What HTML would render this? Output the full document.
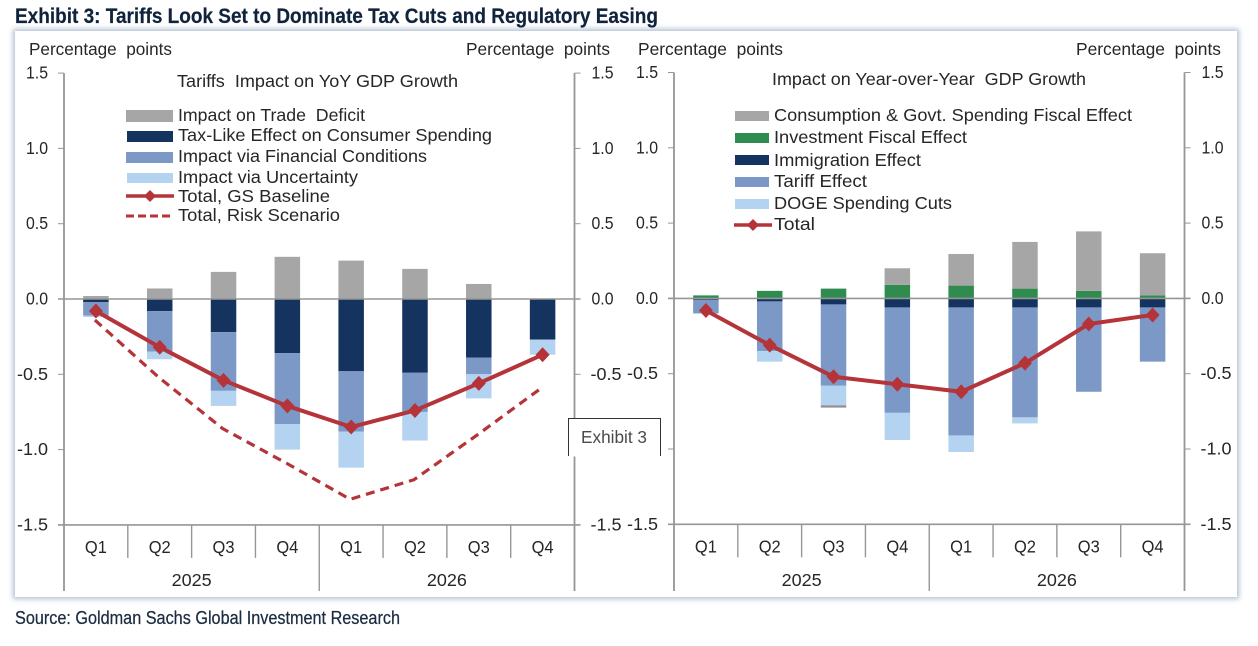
<!DOCTYPE html>
<html lang="en">
<head>
<meta charset="utf-8">
<title>Exhibit 3: Tariffs Look Set to Dominate Tax Cuts and Regulatory Easing</title>
<style>
html,body{margin:0;padding:0;background:#fff;}
#stage{position:relative;width:1258px;height:646px;overflow:hidden;background:#fff;}
#panel{position:absolute;left:15px;top:31px;width:1222px;height:566px;background:#fff;box-shadow:0 0 5px 2px #b0bfd2;}
#art{position:absolute;left:0;top:0;filter:blur(0.3px);}
text{font-family:"Liberation Sans",Arial,sans-serif;font-size:17.5px;fill:#262626;white-space:pre;}
.head{font-weight:bold;font-size:21px;fill:#10233c;stroke:#10233c;stroke-width:0.2px;}
.src{font-size:18px;fill:#1c2c40;stroke:#1c2c40;stroke-width:0.25px;}
</style>
</head>
<body>
<div id="stage">
<div id="panel"></div>
<svg id="art" width="1258" height="646" viewBox="0 0 1258 646" xmlns="http://www.w3.org/2000/svg">
  <g id="left-chart"></g>
  <g id="right-chart"></g>

  <text class="head" x="15" y="23" textLength="643" lengthAdjust="spacingAndGlyphs">Exhibit 3: Tariffs Look Set to Dominate Tax Cuts and Regulatory Easing</text>
  <text class="src" x="15" y="624" textLength="385" lengthAdjust="spacingAndGlyphs">Source: Goldman Sachs Global Investment Research</text>

  <text x="29" y="55" textLength="143" lengthAdjust="spacingAndGlyphs">Percentage  points</text>
  <text x="466" y="55" textLength="144" lengthAdjust="spacingAndGlyphs">Percentage  points</text>
  <text x="638" y="55" textLength="145" lengthAdjust="spacingAndGlyphs">Percentage  points</text>
  <text x="1076" y="55" textLength="145" lengthAdjust="spacingAndGlyphs">Percentage  points</text>

  <text x="177" y="87" textLength="281" lengthAdjust="spacingAndGlyphs">Tariffs  Impact on YoY GDP Growth</text>
  <text x="772" y="85" textLength="314" lengthAdjust="spacingAndGlyphs">Impact on Year-over-Year  GDP Growth</text>

  <g>
    <rect x="126" y="110" width="47" height="12" fill="#a6a6a6"/>
    <text x="178" y="121" textLength="187" lengthAdjust="spacingAndGlyphs">Impact on Trade  Deficit</text>
    <rect x="127" y="131" width="46" height="11" fill="#14335f"/>
    <text x="178" y="141" textLength="314" lengthAdjust="spacingAndGlyphs">Tax-Like Effect on Consumer Spending</text>
    <rect x="126" y="152" width="47" height="11" fill="#7c98c6"/>
    <text x="178" y="162" textLength="249" lengthAdjust="spacingAndGlyphs">Impact via Financial Conditions</text>
    <rect x="127" y="173" width="46" height="10" fill="#b4d3f1"/>
    <text x="178" y="183" textLength="180" lengthAdjust="spacingAndGlyphs">Impact via Uncertainty</text>
    <line x1="126" y1="196" x2="174" y2="196" stroke="#b5343a" stroke-width="3.5"/>
    <polygon points="150,190 156,196 150,202 144,196" fill="#b5343a"/>
    <text x="178" y="202" textLength="152" lengthAdjust="spacingAndGlyphs">Total, GS Baseline</text>
    <line x1="126" y1="216" x2="174" y2="216" stroke="#b5343a" stroke-width="3" stroke-dasharray="8 4"/>
    <text x="178" y="221" textLength="162" lengthAdjust="spacingAndGlyphs">Total, Risk Scenario</text>
  </g>

  <g>
    <rect x="735" y="111" width="34" height="10" fill="#a6a6a6"/>
    <text x="774" y="121" textLength="358" lengthAdjust="spacingAndGlyphs">Consumption &amp; Govt. Spending Fiscal Effect</text>
    <rect x="735" y="133" width="34" height="10" fill="#2f8b4e"/>
    <text x="774" y="143" textLength="193" lengthAdjust="spacingAndGlyphs">Investment Fiscal Effect</text>
    <rect x="735" y="155" width="34" height="10" fill="#14335f"/>
    <text x="774" y="166" textLength="147" lengthAdjust="spacingAndGlyphs">Immigration Effect</text>
    <rect x="735" y="177" width="34" height="10" fill="#7c98c6"/>
    <text x="774" y="187" textLength="93" lengthAdjust="spacingAndGlyphs">Tariff Effect</text>
    <rect x="735" y="199" width="34" height="10" fill="#b4d3f1"/>
    <text x="774" y="209" textLength="178" lengthAdjust="spacingAndGlyphs">DOGE Spending Cuts</text>
    <line x1="734" y1="225" x2="772" y2="225" stroke="#b5343a" stroke-width="3.5"/>
    <polygon points="753,219 759,225 753,231 747,225" fill="#b5343a"/>
    <text x="774" y="230" textLength="41" lengthAdjust="spacingAndGlyphs">Total</text>
  </g>

  <g>
    <rect x="568.5" y="418.5" width="92" height="38" fill="#fff" stroke="none"/>
    <path d="M568.5 456V418.5H660.5V456" fill="none" stroke="#333" stroke-width="1"/>
    <text x="581" y="443" textLength="66" lengthAdjust="spacingAndGlyphs" style="fill:#4a4a4a">Exhibit 3</text>
  </g>
</svg>
</div>

<script>
const quarters = ['Q1', 'Q2', 'Q3', 'Q4', 'Q1', 'Q2', 'Q3', 'Q4'];
const years = ['2025', '2026'];
const tickValues = [1.5, 1.0, 0.5, 0.0, -0.5, -1.0, -1.5];

const tradeDeficit = [0.02, 0.07, 0.18, 0.28, 0.255, 0.20, 0.10, 0];
const consumerSpending = [-0.02, -0.08, -0.22, -0.36, -0.48, -0.49, -0.39, -0.27];
const financialConditions = [-0.09, -0.27, -0.39, -0.47, -0.40, -0.26, -0.11, 0];
const uncertainty = [-0.01, -0.05, -0.10, -0.17, -0.24, -0.19, -0.16, -0.10];
const gsBaseline = [-0.08, -0.32, -0.54, -0.71, -0.85, -0.74, -0.56, -0.37];
const riskScenario = [-0.14, -0.52, -0.86, -1.09, -1.33, -1.20, -0.90, -0.59];

const consumptionGovt = [0, 0, 0, 0.11, 0.21, 0.31, 0.395, 0.28];
const investment = [0.02, 0.05, 0.065, 0.09, 0.085, 0.065, 0.05, 0.02];
const immigration = [-0.01, -0.02, -0.04, -0.06, -0.06, -0.06, -0.06, -0.06];
const tariffEffect = [-0.09, -0.33, -0.54, -0.70, -0.85, -0.73, -0.56, -0.36];
const dogeCuts = [0, -0.07, -0.13, -0.18, -0.11, -0.04, 0, 0];
const consumptionGovtDrag = [0, 0, -0.015, 0, 0, 0, 0, 0];
const totalEffect = [-0.08, -0.31, -0.52, -0.57, -0.62, -0.43, -0.17, -0.11];

const NS = 'http://www.w3.org/2000/svg';
const AXIS_COLOR = '#969696';

function make(parent, tag, attrs, name) {
  const el = document.createElementNS(NS, tag);
  for (const k in attrs) el.setAttribute(k, attrs[k]);
  
  
  parent.appendChild(el);
  return el;
}

function drawChart(root, cfg) {
  const step = (cfg.right - cfg.left) / quarters.length;
  const xCenter = i => cfg.left + step * (i + 0.5);
  const yPos = v => cfg.zero - v * cfg.unit;
  const barW = 25.5;
  const bottom = yPos(-1.5);

  cfg.stacks.forEach(stack => {
    const up = quarters.map(() => 0);
    const down = quarters.map(() => 0);
    stack.forEach(series => {
      series.values.forEach((v, i) => {
        if (!v) return;
        const base = v > 0 ? up[i] : down[i];
        const end = base + v;
        if (v > 0) up[i] = end; else down[i] = end;
        make(root, 'rect', {
          x: xCenter(i) - barW / 2,
          y: Math.min(yPos(base), yPos(end)),
          width: barW,
          height: Math.abs(yPos(end) - yPos(base)),
          fill: series.color
        }, 'bar-' + series.name + '-' + (i + 1));
      });
    });
  });

  make(root, 'line', {x1: cfg.left, y1: yPos(1.5), x2: cfg.left, y2: 591, stroke: AXIS_COLOR, 'stroke-width': 1.8}, 'left-value-axis');
  make(root, 'line', {x1: cfg.right, y1: yPos(1.5), x2: cfg.right, y2: 591, stroke: AXIS_COLOR, 'stroke-width': 1.8}, 'right-value-axis');
  make(root, 'line', {x1: cfg.left - 6, y1: yPos(0), x2: cfg.right + 6, y2: yPos(0), stroke: AXIS_COLOR, 'stroke-width': 1.6}, 'zero-line');
  make(root, 'line', {x1: cfg.left - 6, y1: bottom, x2: cfg.right + 6, y2: bottom, stroke: AXIS_COLOR, 'stroke-width': 1.6}, 'category-axis');

  tickValues.forEach(v => {
    const y = yPos(v);
    const w = v < 0 ? 31 : 22;
    make(root, 'line', {x1: cfg.left - 6, y1: y, x2: cfg.left, y2: y, stroke: AXIS_COLOR, 'stroke-width': 1}, 'left-tick');
    make(root, 'line', {x1: cfg.right, y1: y, x2: cfg.right + 6, y2: y, stroke: AXIS_COLOR, 'stroke-width': 1}, 'right-tick');
    const a = make(root, 'text', {x: cfg.left - 16 - w, y: y + 5.5, textLength: w, lengthAdjust: 'spacingAndGlyphs'}, 'left-tick-label');
    a.textContent = v.toFixed(1);
    const b = make(root, 'text', {x: cfg.right + 16 + (v < 0 ? 0 : 1), y: y + 5.5, textLength: w, lengthAdjust: 'spacingAndGlyphs'}, 'right-tick-label');
    b.textContent = v.toFixed(1);
  });

  quarters.forEach((q, i) => {
    const t = make(root, 'text', {x: xCenter(i) - 11, y: bottom + 28, textLength: 22, lengthAdjust: 'spacingAndGlyphs'}, 'quarter-label');
    t.textContent = q;
    if (i > 0 && i !== quarters.length / 2) {
      const sx = cfg.left + step * i;
      make(root, 'line', {x1: sx, y1: bottom, x2: sx, y2: bottom + 33, stroke: AXIS_COLOR, 'stroke-width': 1.4}, 'quarter-separator');
    }
  });
  const mid = (cfg.left + cfg.right) / 2;
  make(root, 'line', {x1: mid, y1: bottom, x2: mid, y2: 591, stroke: AXIS_COLOR, 'stroke-width': 1.4}, 'year-separator');
  years.forEach((yr, i) => {
    const x = cfg.left + (cfg.right - cfg.left) * (i + 0.5) / years.length;
    const t = make(root, 'text', {x: x - 20, y: 586, textLength: 40, lengthAdjust: 'spacingAndGlyphs'}, 'year-label');
    t.textContent = yr;
  });

  cfg.lines.forEach(line => {
    const pts = line.values.map((v, i) => (xCenter(i) + (line.dx || 0)) + ',' + yPos(v)).join(' ');
    const attrs = {points: pts, fill: 'none', stroke: '#b5343a', 'stroke-width': line.width, 'stroke-linejoin': 'round'};
    if (line.dash) attrs['stroke-dasharray'] = line.dash;
    make(root, 'polyline', attrs, 'line-' + line.name);
    if (line.markers) {
      line.values.forEach((v, i) => {
        const x = xCenter(i), y = yPos(v);
        make(root, 'polygon', {
          points: x + ',' + (y - 7.5) + ' ' + (x + 7) + ',' + y + ' ' + x + ',' + (y + 7.5) + ' ' + (x - 7) + ',' + y,
          fill: '#b5343a'
        }, 'marker-' + line.name + '-' + (i + 1));
      });
    }
  });
}

drawChart(document.getElementById('left-chart'), {
  left: 64, right: 574.5, zero: 299, unit: 150.6,
  stacks: [[
    {name: 'trade-deficit', values: tradeDeficit, color: '#a6a6a6'},
    {name: 'consumer-spending', values: consumerSpending, color: '#14335f'},
    {name: 'financial-conditions', values: financialConditions, color: '#7c98c6'},
    {name: 'uncertainty', values: uncertainty, color: '#b4d3f1'}
  ]],
  lines: [
    {name: 'risk-scenario', values: riskScenario, width: 3.2, dash: '9 6', dx: -1},
    {name: 'gs-baseline', values: gsBaseline, width: 4, markers: true}
  ]
});

drawChart(document.getElementById('right-chart'), {
  left: 674, right: 1184.5, zero: 298.4, unit: 150.6,
  stacks: [[
    {name: 'investment', values: investment, color: '#2f8b4e'},
    {name: 'consumption-govt', values: consumptionGovt, color: '#a6a6a6'},
    {name: 'immigration', values: immigration, color: '#14335f'},
    {name: 'tariff', values: tariffEffect, color: '#7c98c6'},
    {name: 'doge', values: dogeCuts, color: '#b4d3f1'},
    {name: 'consumption-govt-drag', values: consumptionGovtDrag, color: '#8f8f8f'}
  ]],
  lines: [
    {name: 'total', values: totalEffect, width: 4, markers: true}
  ]
});
</script>
</body>
</html>
